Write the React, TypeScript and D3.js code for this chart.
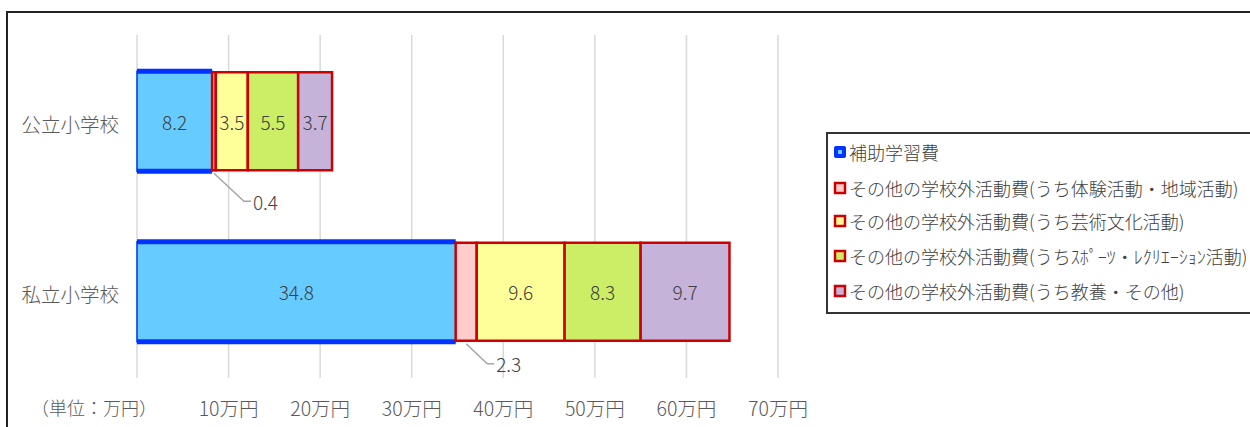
import React from "react";
import * as d3 from "d3";

const categories = ["公立小学校", "私立小学校"];
const seriesNames = [
  "補助学習費",
  "その他の学校外活動費(うち体験活動・地域活動)",
  "その他の学校外活動費(うち芸術文化活動)",
  "その他の学校外活動費(うちｽﾎﾟｰﾂ・ﾚｸﾘｴｰｼｮﾝ活動)",
  "その他の学校外活動費(うち教養・その他)",
];
const publicValues = [8.2, 0.4, 3.5, 5.5, 3.7];
const privateValues = [34.8, 2.3, 9.6, 8.3, 9.7];
const tickValues = [10, 20, 30, 40, 50, 60, 70];
const tickLabels = ["10万円", "20万円", "30万円", "40万円", "50万円", "60万円", "70万円"];
const unitLabel = "（単位：万円）";

const fills = ["#66CCFF", "#FFCCCC", "#FFFF99", "#CCEE66", "#C5B3DA"];
const strokes = ["#0033FF", "#CC0000", "#CC0000", "#CC0000", "#CC0000"];

const FONT = "'Noto Sans CJK JP', 'Noto Sans', sans-serif";

export default function App() {
  const W = 1250, H = 427;
  const x = d3.scaleLinear().domain([0, 70]).range([137, 778]);
  const y = d3.scalePoint<string>().domain(categories).range([36, 377]).padding(0.5);
  const barH = 104;
  const data = [publicValues, privateValues];
  const leaderOffsets = [
    [30, 28],
    [21, 20],
  ];

  return (
    <svg width={W} height={H} style={{ position: "absolute", left: 0, top: 0, fontFamily: FONT, fontWeight: 300 }}>
      <rect x={0} y={0} width={W} height={H} fill="#fff" />
      <rect x={7} y={12} width={W + 20} height={H + 20} fill="none" stroke="#222" strokeWidth={2} />
      {[0, ...tickValues].map((t) => (
        <line key={t} x1={x(t)} x2={x(t)} y1={35} y2={378} stroke="#D9D9D9" strokeWidth={1.5} />
      ))}
      {tickValues.map((t, i) => (
        <text key={t} x={x(t)} y={407} textAnchor="middle" dominantBaseline="central" fontSize={19.5} fill="#595959">
          {tickLabels[i]}
        </text>
      ))}
      <text x={94} y={407} textAnchor="middle" dominantBaseline="central" fontSize={18} fill="#595959">
        {unitLabel}
      </text>
      {categories.map((c) => (
        <text key={c} x={119} y={(y(c) as number) + 2} textAnchor="end" dominantBaseline="central" fontSize={19.5} fill="#595959">
          {c}
        </text>
      ))}
      {categories.map((c, ci) => {
        const vals = data[ci];
        const cy = y(c) as number;
        const top = cy - barH / 2;
        const stack = d3.cumsum(vals);
        const segs = vals.map((v, i) => ({ v, i, x0: i === 0 ? 0 : stack[i - 1], x1: stack[i] }));
        return (
          <g key={c}>
            {segs.map((s) =>
              s.i === 0 ? (
                <g key={s.i}>
                  <rect x={x(s.x0)} y={top + 2} width={x(s.x1) - x(s.x0)} height={barH - 4} fill={fills[0]} stroke={strokes[0]} strokeWidth={1.5} />
                  <line x1={x(s.x0)} x2={x(s.x1)} y1={top + 2} y2={top + 2} stroke={strokes[0]} strokeWidth={5} />
                  <line x1={x(s.x0)} x2={x(s.x1)} y1={top + barH - 2} y2={top + barH - 2} stroke={strokes[0]} strokeWidth={5} />
                </g>
              ) : (
                <rect key={s.i} x={x(s.x0)} y={top + 3} width={x(s.x1) - x(s.x0)} height={barH - 6} fill={fills[s.i]} stroke={strokes[s.i]} strokeWidth={2.5} />
              )
            )}
            {segs.map((s) => {
              const mx = (x(s.x0) + x(s.x1)) / 2;
              if (s.v >= 3) {
                return (
                  <text key={"t" + s.i} x={mx} y={cy} textAnchor="middle" dominantBaseline="central" fontSize={19} fill="#404040">
                    {s.v.toFixed(1)}
                  </text>
                );
              }
              const [dx, dy] = leaderOffsets[ci];
              const by = top + barH;
              return (
                <g key={"t" + s.i}>
                  <polyline points={`${mx},${by} ${mx + dx},${by + dy} ${mx + dx + 7},${by + dy}`} fill="none" stroke="#A6A6A6" strokeWidth={1.5} />
                  <text x={mx + dx + 9} y={by + dy} dominantBaseline="central" fontSize={19} fill="#404040">
                    {s.v.toFixed(1)}
                  </text>
                </g>
              );
            })}
          </g>
        );
      })}
      <rect x={827} y={133} width={W} height={180} fill="#fff" stroke="#333" strokeWidth={2} />
      {seriesNames.map((n, i) => {
        const ly = [152, 188, 221, 256, 291][i];
        return (
          <g key={n}>
            {i === 0 ? (
              <g>
                <rect x={834} y={ly - 6} width={12} height={12} rx={2} fill={strokes[0]} />
                <rect x={838} y={ly - 2} width={4} height={4} fill={fills[0]} />
              </g>
            ) : (
              <rect x={835} y={ly - 5} width={10} height={10} fill={fills[i]} stroke={strokes[i]} strokeWidth={2.5} />
            )}
            <text x={849} y={ly} dominantBaseline="central" fontSize={18} fill="#404040">
              {n}
            </text>
          </g>
        );
      })}
    </svg>
  );
}
